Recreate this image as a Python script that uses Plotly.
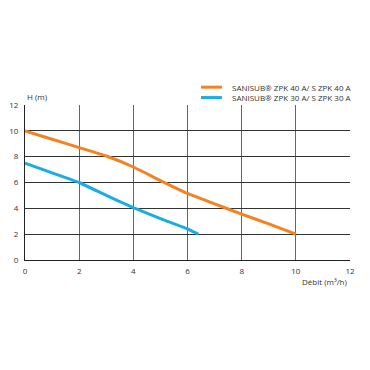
import plotly.graph_objects as go

# Data
orange_name = "SANISUB® ZPK 40 A/ S ZPK 40 A"
orange_x = [0, 1, 2, 3, 4, 5, 6, 7, 8, 9, 10]
orange_y = [10.0, 9.35, 8.7, 8.05, 7.2, 6.15, 5.15, 4.35, 3.55, 2.8, 2.0]

blue_name = "SANISUB® ZPK 30 A/ S ZPK 30 A"
blue_x = [0, 1, 2, 3, 4, 5, 6, 6.4]
blue_y = [7.5, 6.75, 6.0, 5.0, 4.05, 3.2, 2.4, 2.0]

x_ticks = [0, 2, 4, 6, 8, 10, 12]
y_ticks = [0, 2, 4, 6, 8, 10, 12]

font_family = "Open Sans, Noto Sans, sans-serif"
text_color = "#333333"
orange = "#F58220"
blue = "#1AADE4"

fig = go.Figure()
fig.add_trace(go.Scatter(x=orange_x, y=orange_y, mode="lines", name=orange_name,
                         line=dict(color=orange, width=3, shape="spline", smoothing=0.3),
                         showlegend=False))
fig.add_trace(go.Scatter(x=blue_x, y=blue_y, mode="lines", name=blue_name,
                         line=dict(color=blue, width=3, shape="spline", smoothing=0.3),
                         showlegend=False))

# Manual compact legend (paper coordinates)
shapes = [
    dict(type="line", xref="paper", yref="paper", x0=0.5415, x1=0.606,
         y0=1.115, y1=1.115, line=dict(color=orange, width=3)),
    dict(type="line", xref="paper", yref="paper", x0=0.5415, x1=0.606,
         y0=1.048, y1=1.048, line=dict(color=blue, width=3)),
]
annotations = [
    dict(text=orange_name + "<br>" + blue_name, xref="paper", yref="paper",
         x=0.631, y=1.0815, xanchor="left", yanchor="middle", align="left",
         showarrow=False, font=dict(size=8, color=text_color)),
    dict(text="H (m)", xref="paper", yref="paper", x=0, y=1.0, xanchor="left",
         yanchor="bottom", yshift=1, showarrow=False, font=dict(size=8, color=text_color)),
    dict(text="Débit (m³/h)", xref="paper", yref="paper", x=1.0, y=0, xanchor="right",
         yanchor="top", yshift=-14, showarrow=False, font=dict(size=8, color=text_color)),
]

fig.update_layout(
    width=362, height=362,
    margin=dict(l=17, r=20, t=97, b=110),
    paper_bgcolor="white", plot_bgcolor="white",
    font=dict(family=font_family, size=8, color=text_color),
    showlegend=False,
    shapes=shapes,
    annotations=annotations,
    xaxis=dict(range=[0, 12], tickvals=x_ticks, showgrid=True, gridcolor="#666666", gridwidth=1,
               showline=True, linecolor="#222222", linewidth=1, zeroline=False, automargin=False,
               ticks="", ticklabelstandoff=3, tickfont=dict(size=8, color=text_color), fixedrange=True),
    yaxis=dict(range=[0, 12], tickvals=y_ticks, showgrid=True, gridcolor="#333333", gridwidth=1,
               showline=True, linecolor="#222222", linewidth=1, zeroline=False, automargin=False,
               ticks="", ticklabelstandoff=4, tickfont=dict(size=8, color=text_color), fixedrange=True),
)

fig.write_html("out.html")
